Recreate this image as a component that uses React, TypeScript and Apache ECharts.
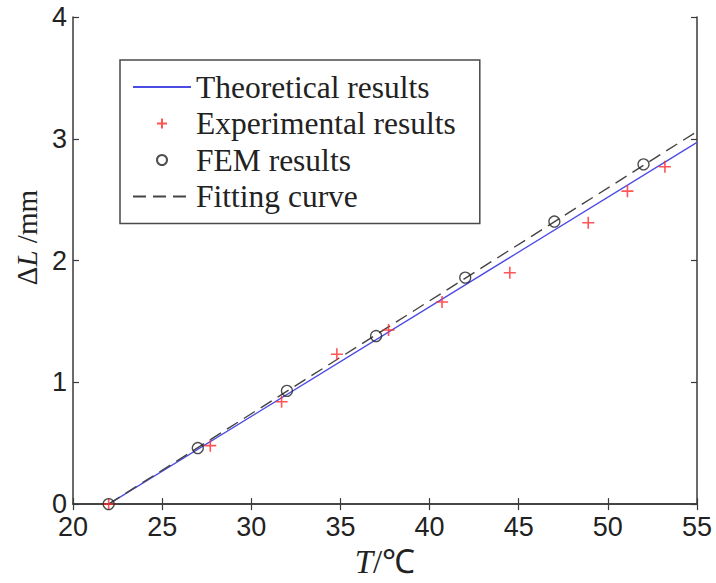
import React, { useEffect, useRef } from "react";
import * as echarts from "echarts";

const xTicks = [20, 25, 30, 35, 40, 45, 50, 55];
const yTicks = [0, 1, 2, 3, 4];

const theoreticalX = [22, 55];
const theoreticalY = [0, 2.97];

const experimentalX = [22, 27.7, 31.7, 34.8, 37.7, 40.7, 44.5, 48.9, 51.1, 53.2];
const experimentalY = [0, 0.48, 0.84, 1.23, 1.43, 1.66, 1.9, 2.31, 2.57, 2.77];

const femX = [22, 27, 32, 37, 42, 47, 52];
const femY = [0, 0.46, 0.93, 1.38, 1.86, 2.32, 2.79];

const fitX = [22, 55];
const fitY = [0, 3.06];

const seriesNames = ["Theoretical results", "Experimental results", "FEM results", "Fitting curve"];

const zip = (xs: number[], ys: number[]) => xs.map((x, i) => [x, ys[i]]);

const CROSS = "path://M0,5L10,5M5,0L5,10";
const SANS = "Arial, 'Liberation Sans', sans-serif";
const SERIF = "'Times New Roman', 'Liberation Serif', serif";
const AXIS_COLOR = "#3a3a3a";
const HIDDEN_DOT = { color: "rgba(0,0,0,0)", borderWidth: 0, opacity: 0 };

export default function App() {
  const ref = useRef<HTMLDivElement>(null);

  useEffect(() => {
    document.body.style.margin = "0";
    const chart = echarts.init(ref.current!, null, { renderer: "svg" });

    const boxAxis = {
      min: 20,
      max: 55,
      interval: 5,
      axisLine: { show: true, lineStyle: { color: AXIS_COLOR, width: 1.5 } },
      axisTick: { show: true, inside: true, length: 6, lineStyle: { color: AXIS_COLOR, width: 1.2 } },
      splitLine: { show: false },
    };

    chart.setOption({
      animation: false,
      backgroundColor: "#ffffff",
      grid: { left: 73, right: 19, top: 17, bottom: 75, containLabel: false },
      xAxis: [
        {
          type: "value",
          position: "bottom",
          ...boxAxis,
          axisLabel: {
            show: true,
            fontSize: 27,
            fontFamily: SANS,
            color: "#222",
            margin: 9,
            formatter: (v: number) => (xTicks.includes(v) ? String(v) : ""),
          },
          name: "{i|T}/℃",
          nameLocation: "middle",
          nameGap: 40,
          nameTextStyle: {
            fontSize: 33,
            fontFamily: SERIF,
            color: "#222",
            rich: { i: { fontStyle: "italic", fontSize: 33, fontFamily: SERIF, color: "#222" } },
          },
        },
        {
          type: "value",
          position: "top",
          ...boxAxis,
          axisLabel: { show: false },
        },
      ],
      yAxis: [
        {
          type: "value",
          position: "left",
          min: 0,
          max: 4,
          interval: 1,
          axisLine: { show: true, lineStyle: { color: AXIS_COLOR, width: 1.5 } },
          axisTick: { show: true, inside: true, length: 6, lineStyle: { color: AXIS_COLOR, width: 1.2 } },
          splitLine: { show: false },
          axisLabel: {
            show: true,
            fontSize: 27,
            fontFamily: SANS,
            color: "#222",
            margin: 6,
            formatter: (v: number) => (yTicks.includes(v) ? String(v) : ""),
          },
          name: "Δ{i|L} /mm",
          nameLocation: "middle",
          nameRotate: 90,
          nameGap: 30,
          nameTextStyle: {
            fontSize: 29,
            fontFamily: SERIF,
            color: "#222",
            padding: [0, 0, 0, 46],
            rich: { i: { fontStyle: "italic", fontSize: 29, fontFamily: SERIF, color: "#222" } },
          },
        },
        {
          type: "value",
          position: "right",
          min: 0,
          max: 4,
          interval: 1,
          axisLine: { show: true, lineStyle: { color: AXIS_COLOR, width: 1.5 } },
          axisTick: { show: true, inside: true, length: 6, lineStyle: { color: AXIS_COLOR, width: 1.2 } },
          splitLine: { show: false },
          axisLabel: { show: false },
        },
      ],
      legend: {
        orient: "vertical",
        left: 120,
        top: 60,
        data: [
          { name: seriesNames[0], itemStyle: HIDDEN_DOT },
          { name: seriesNames[1] },
          { name: seriesNames[2] },
          { name: seriesNames[3], itemStyle: HIDDEN_DOT },
        ],
        itemWidth: 58,
        itemHeight: 10,
        itemGap: 4.5,
        padding: [11, 24, 11, 12],
        backgroundColor: "#ffffff",
        borderColor: "#4a4a4a",
        borderWidth: 1.5,
        borderRadius: 0,
        textStyle: { fontSize: 31.5, fontFamily: SERIF, color: "#222", lineHeight: 30 },
      },
      series: [
        {
          name: seriesNames[0],
          type: "line",
          xAxisIndex: 0,
          yAxisIndex: 0,
          data: zip(theoreticalX, theoreticalY),
          symbol: "none",
          lineStyle: { color: "#4b4be6", width: 1.3 },
          itemStyle: { color: "#4b4be6" },
          z: 2,
        },
        {
          name: seriesNames[3],
          type: "line",
          xAxisIndex: 0,
          yAxisIndex: 0,
          data: zip(fitX, fitY),
          symbol: "none",
          lineStyle: { color: "#444", width: 1.4, type: [13, 7] },
          itemStyle: { color: "#444" },
          z: 2,
        },
        {
          name: seriesNames[1],
          type: "scatter",
          xAxisIndex: 0,
          yAxisIndex: 0,
          data: zip(experimentalX, experimentalY),
          symbol: CROSS,
          symbolSize: 12,
          itemStyle: { color: "none", borderColor: "#ff2a2a", borderWidth: 1.6 },
          z: 3,
        },
        {
          name: seriesNames[2],
          type: "scatter",
          xAxisIndex: 0,
          yAxisIndex: 0,
          data: zip(femX, femY),
          symbol: "circle",
          symbolSize: 11,
          itemStyle: { color: "none", borderColor: "#222", borderWidth: 1.3 },
          z: 4,
        },
      ],
    });

    return () => chart.dispose();
  }, []);

  return <div ref={ref} style={{ width: 716, height: 583 }} />;
}
